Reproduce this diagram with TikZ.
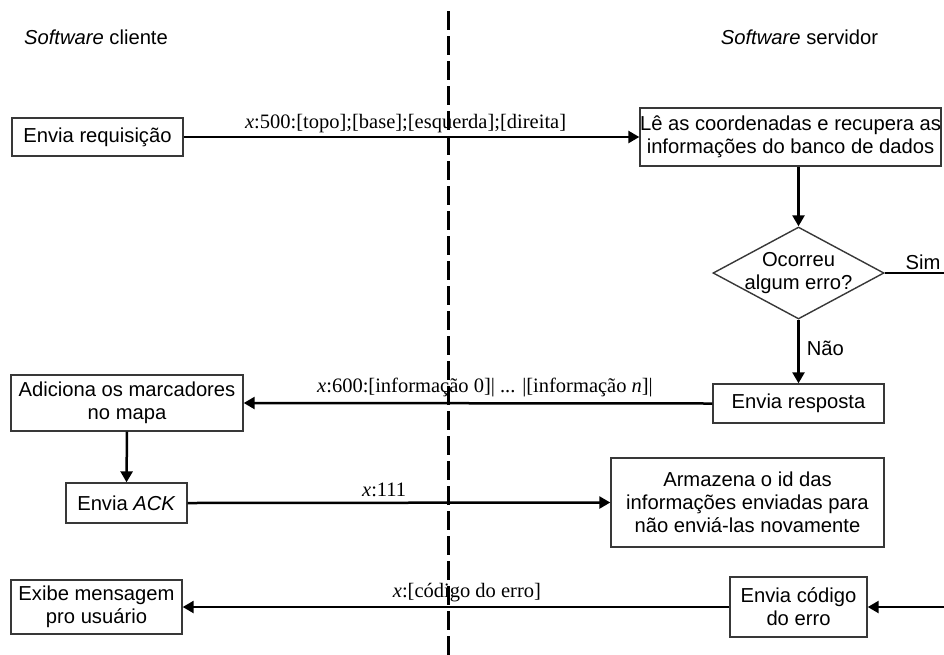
\documentclass[tikz,border=0pt]{standalone}
\usepackage{fontspec}
\setmainfont{Liberation Sans}
\newfontfamily\labelfont{Liberation Serif}
\usetikzlibrary{arrows.meta,shapes.geometric}

\tikzset{
  box/.style={draw=black!78, line width=1.4pt, fill=white, rectangle,
    inner sep=0pt, align=center, font=\fontsize{20.2}{22.8}\selectfont},
  decision/.style={draw=black!78, line width=1.4pt, fill=white, diamond,
    inner sep=0pt},
  flow/.style={line width=2.5pt, -{Triangle[length=11pt,width=12pt]}},
  msg/.style={font=\labelfont\fontsize{20.5}{22}\selectfont, inner sep=0pt},
  txt/.style={font=\fontsize{20.2}{22.8}\selectfont, inner sep=0pt, align=center},
  divider/.style={line width=3pt, dash pattern=on 19pt off 6pt}
}

\begin{document}
\begin{tikzpicture}[x=1pt,y=-1pt]
  \useasboundingbox (0,0) rectangle (944,654);
  \fill[white] (0,0) rectangle (944,654);
  \clip (0,0) rectangle (944,654);

  % dividing line between client and server
  \coordinate (divtop) at (448.5,11);
  \coordinate (divbot) at (448.5,660);
  \draw[divider] (divtop) -- (divbot);

  % column headings
  \node[txt] (hcli) at (96,37) {\textit{Software} cliente};
  \node[txt] (hsrv) at (799.5,37) {\textit{Software} servidor};

  % client side
  \node[box, minimum width=171pt, minimum height=38pt] (req) at (97.5,137) {Envia requisição};
  \node[box, minimum width=232pt, minimum height=56pt] (add) at (127,403) {Adiciona os marcadores\\no mapa};
  \node[box, minimum width=121pt, minimum height=40pt] (ack) at (126.5,503) {Envia \textit{ACK}};
  \node[box, minimum width=171pt, minimum height=54pt] (exibe) at (96.5,607) {Exibe mensagem\\pro usuário};

  % server side
  \node[box, minimum width=299pt, minimum height=58pt] (le) at (790.5,137) {Lê as coordenadas e recupera as\\informações do banco de dados};
  \node[decision, minimum width=171pt, minimum height=92pt,
        label={[txt]center:Ocorreu\\algum erro?}] (dec) at (798.5,273) {};
  \node[box, minimum width=171pt, minimum height=39pt] (resp) at (798.5,403.5) {Envia resposta};
  \node[box, minimum width=273pt, minimum height=89pt] (arm) at (747.5,502.5) {Armazena o id das\\informações enviadas para\\não enviá-las novamente};
  \node[box, minimum width=137pt, minimum height=60pt] (cod) at (798.5,607) {Envia código\\do erro};

  % error branch runs past the right edge
  \coordinate (bend1) at (962,273);
  \coordinate (bend2) at (962,607);

  % messages between client and server
  \draw[flow] (req.east) -- node[msg, pos=0.487, yshift=13pt] {\textit{x}:500:[topo];[base];[esquerda];[direita]} (le.west);
  \draw[flow] (resp.west) -- node[msg, pos=0.485, yshift=16pt] {\textit{x}:600:[informação 0]| ... |[informação \textit{n}]|} (add.east);
  \draw[flow] (ack.east) -- node[msg, pos=0.465, yshift=13pt] {\textit{x}:111} (arm.west);
  \draw[flow] (cod.west) -- node[msg, pos=0.48, yshift=14pt] {\textit{x}:[código do erro]} (exibe.east);

  % local flow
  \draw[flow] (le.south -| dec.north) -- (dec.north);
  \draw[flow] (dec.south) -- node[txt, right=7pt, pos=0.45] {Não} (resp.north);
  \draw[flow] (add.south) -- (ack.north);
  \draw[flow] (dec.east) -- (bend1) -- (bend2) -- (cod.east);
  \node[txt] (sim) at (923,262) {Sim};
\end{tikzpicture}
\end{document}
